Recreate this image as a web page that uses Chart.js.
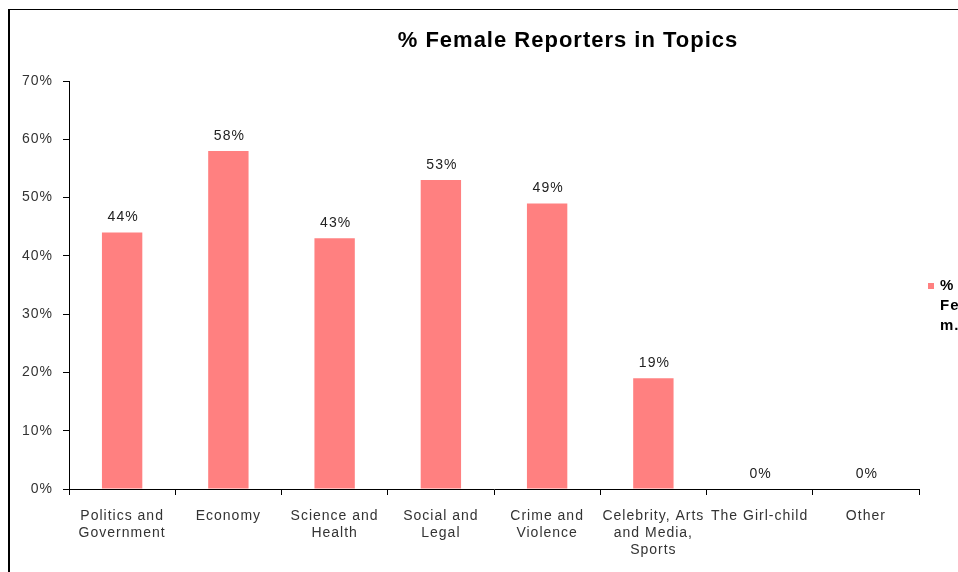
<!DOCTYPE html>
<html>
<head>
<meta charset="utf-8">
<script src="https://cdn.jsdelivr.net/npm/chart.js@4"></script>
<style>
  html, body { margin: 0; padding: 0; background: #fff; }
  #wrap { position: relative; width: 958px; height: 572px; overflow: hidden; }
  #frame {
    position: absolute; left: 8px; top: 9px; width: 1000px; height: 600px;
    border-left: 2px solid #000; border-top: 1px solid #000;
  }
  canvas { position: absolute; left: 0; top: 0; }
</style>
</head>
<body>
<div id="wrap">
  <div id="frame"></div>
  <canvas id="chart" width="958" height="572"></canvas>
</div>
<script>
const topics = [
  ["Politics and", "Government"],
  "Economy",
  ["Science and", "Health"],
  ["Social and", "Legal"],
  ["Crime and", "Violence"],
  ["Celebrity, Arts", "and Media,", "Sports"],
  "The Girl-child",
  "Other",
];
const femaleShare = [44, 58, 43, 53, 49, 19, 0, 0];
const yTicks = [0, 10, 20, 30, 40, 50, 60, 70];
const chartTitle = "% Female Reporters in Topics";
const legendLines = ["%", "Female", "m."];

const FONT = "'Liberation Sans', Arial, sans-serif";
const BAR = "#FF8080";

// wide, loosely spaced text everywhere
const spacing = {
  id: "spacing",
  beforeDraw(chart) {
    chart.ctx.letterSpacing = "1px";
  },
};

// value labels over each bar
const valueLabels = {
  id: "valueLabels",
  afterDatasetsDraw(chart) {
    const ctx = chart.ctx;
    const meta = chart.getDatasetMeta(0);
    ctx.save();
    ctx.font = `14px ${FONT}`;
    ctx.fillStyle = "#222";
    ctx.textAlign = "center";
    ctx.textBaseline = "bottom";
    meta.data.forEach((bar, i) => {
      ctx.fillText(femaleShare[i] + "%", bar.x + 1, bar.y - 8);
    });
    ctx.restore();
  },
};

// title and the clipped legend on the right
const decorations = {
  id: "decorations",
  afterDraw(chart) {
    const ctx = chart.ctx;
    const area = chart.chartArea;
    ctx.save();
    ctx.font = `bold 22px ${FONT}`;
    ctx.fillStyle = "#000";
    ctx.textAlign = "center";
    ctx.textBaseline = "middle";
    ctx.fillText(chartTitle, 568, 41);

    const lx = area.right + 9;
    const ly = (area.top + area.bottom) / 2 + 1;
    ctx.fillStyle = BAR;
    ctx.fillRect(lx, ly - 3, 6, 6);
    ctx.fillStyle = "#000";
    ctx.font = `bold 15px ${FONT}`;
    ctx.textAlign = "left";
    legendLines.forEach((t, i) => ctx.fillText(t, lx + 12, ly + i * 20));
    ctx.restore();
  },
};

new Chart(document.getElementById("chart"), {
  type: "bar",
  data: {
    labels: topics,
    datasets: [
      {
        label: "% Female reporters",
        data: femaleShare,
        backgroundColor: BAR,
        borderWidth: 0,
        categoryPercentage: 1,
        barPercentage: 0.38,
      },
    ],
  },
  options: {
    responsive: false,
    animation: false,
    layout: { padding: { left: 0, top: 81, right: 39, bottom: 0 } },
    plugins: {
      legend: { display: false },
      title: { display: false },
      tooltip: { enabled: false },
    },
    scales: {
      x: {
        grid: {
          offset: true,
          drawOnChartArea: false,
          tickLength: 6,
          color: "#000",
        },
        border: { color: "#000", width: 1 },
        ticks: {
          color: "#333",
          font: { family: FONT, size: 14 },
          padding: 13,
          maxRotation: 0,
          autoSkip: false,
        },
        afterFit(scale) { scale.height = 83; },
      },
      y: {
        min: 0,
        max: 70,
        afterBuildTicks(scale) { scale.ticks = yTicks.map((v) => ({ value: v })); },
        grid: { drawOnChartArea: false, tickLength: 6, color: "#000" },
        border: { color: "#000", width: 1 },
        ticks: {
          color: "#333",
          font: { family: FONT, size: 14 },
          padding: 10,
          callback: (v) => v + "%",
        },
        afterFit(scale) { scale.width = 69; },
      },
    },
  },
  plugins: [spacing, valueLabels, decorations],
});
</script>
</body>
</html>
